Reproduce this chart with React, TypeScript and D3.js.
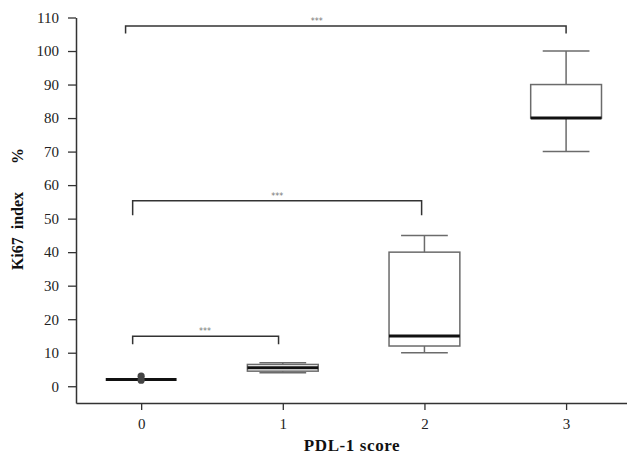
import React, { useEffect, useRef } from 'react';
import * as d3 from 'd3';

// PDL-1 score groups and their Ki67 box stats
const groups = [0, 1, 2, 3];
const whiskerLow = [2, 4, 10, 70];
const boxLow = [2, 4.5, 12, 80];
const medians = [2, 5.5, 15, 80];
const boxHigh = [2, 6.5, 40, 90];
const whiskerHigh = [2, 7, 45, 100];
// outlier dots for group 0
const outlierGroup = [0, 0];
const outlierValues = [3, 1.8];

// significance brackets: from group, to group, bar height, drop height, star x
const bracketFrom = [-0.11, -0.06, -0.06];
const bracketTo = [3, 1.98, 0.97];
const bracketTop = [107.5, 55.3, 14.9];
const bracketDrop = [105.2, 51, 12.5];
const starX = [1.24, 0.96, 0.45];
const starLabel = ['***', '***', '***'];

const yTicks = d3.range(0, 111, 10);

const App = () => {
  const svgRef = useRef<SVGSVGElement>(null);

  useEffect(() => {
    const svg = d3.select(svgRef.current);
    svg.selectAll('*').remove();

    const x = d3.scaleLinear().domain([-0.46, 3.43]).range([76, 627]);
    const y = d3.scaleLinear().domain([-5, 110]).range([403, 17.5]);
    const halfBox = x(0.25) - x(0);
    const halfCap = x(0.165) - x(0);

    const font = "'Liberation Serif', 'Times New Roman', serif";

    // axes
    const yAxis = svg
      .append('g')
      .attr('transform', `translate(${x(-0.46)},0)`)
      .call(d3.axisLeft(y).tickValues(yTicks).tickSizeOuter(0).tickSizeInner(8).tickPadding(9));
    const xAxis = svg
      .append('g')
      .attr('transform', `translate(0,${y(-5)})`)
      .call(d3.axisBottom(x).tickValues(groups).tickFormat(d3.format('d')).tickSizeOuter(0).tickSizeInner(7).tickPadding(8));
    [yAxis, xAxis].forEach((ax) => {
      ax.select('.domain').attr('stroke', '#333').attr('stroke-width', 1.5);
      ax.selectAll('.tick line').attr('stroke', '#333').attr('stroke-width', 1.3);
      ax.selectAll('.tick text')
        .attr('fill', '#222')
        .style('font-family', font)
        .style('font-size', '15px');
    });

    // axis titles
    svg
      .append('text')
      .attr('transform', `translate(23,209) rotate(-90)`)
      .attr('text-anchor', 'middle')
      .attr('xml:space', 'preserve')
      .style('white-space', 'pre')
      .style('font-family', font)
      .style('font-size', '16px')
      .style('font-weight', 'bold')
      .attr('fill', '#111')
      .text('Ki67  index       %');

    svg
      .append('text')
      .attr('x', 352)
      .attr('y', 451)
      .attr('text-anchor', 'middle')
      .style('font-family', font)
      .style('font-size', '17px')
      .style('font-weight', 'bold')
      .style('letter-spacing', '0.6px')
      .attr('fill', '#111')
      .text('PDL-1 score');

    // boxes
    const gray = '#6b6b6b';
    const boxes = svg
      .selectAll('g.box')
      .data(groups)
      .enter()
      .append('g')
      .attr('class', 'box');

    boxes
      .append('line')
      .attr('x1', (d) => x(d))
      .attr('x2', (d) => x(d))
      .attr('y1', (d, i) => y(whiskerLow[i]))
      .attr('y2', (d, i) => y(whiskerHigh[i]))
      .attr('stroke', gray)
      .attr('stroke-width', 1.5);

    boxes
      .selectAll('line.cap')
      .data((d, i) => [
        { g: d, v: whiskerLow[i] },
        { g: d, v: whiskerHigh[i] },
      ])
      .enter()
      .append('line')
      .attr('class', 'cap')
      .attr('x1', (d) => x(d.g) - halfCap)
      .attr('x2', (d) => x(d.g) + halfCap)
      .attr('y1', (d) => y(d.v))
      .attr('y2', (d) => y(d.v))
      .attr('stroke', gray)
      .attr('stroke-width', 1.5);

    boxes
      .append('rect')
      .attr('x', (d) => x(d) - halfBox)
      .attr('width', halfBox * 2)
      .attr('y', (d, i) => y(boxHigh[i]))
      .attr('height', (d, i) => y(boxLow[i]) - y(boxHigh[i]))
      .attr('fill', 'white')
      .attr('stroke', gray)
      .attr('stroke-width', 1.5);

    boxes
      .append('line')
      .attr('x1', (d) => x(d) - halfBox)
      .attr('x2', (d) => x(d) + halfBox)
      .attr('y1', (d, i) => y(medians[i]))
      .attr('y2', (d, i) => y(medians[i]))
      .attr('stroke', '#111')
      .attr('stroke-width', 3);

    // outliers
    svg
      .selectAll('circle.out')
      .data(outlierValues)
      .enter()
      .append('circle')
      .attr('class', 'out')
      .attr('cx', (d, i) => x(outlierGroup[i]))
      .attr('cy', (d) => y(d))
      .attr('r', 3.6)
      .attr('fill', '#444');

    // significance brackets
    const line = d3.line<[number, number]>().x((d) => x(d[0])).y((d) => y(d[1]));
    svg
      .selectAll('path.bracket')
      .data(bracketFrom)
      .enter()
      .append('path')
      .attr('class', 'bracket')
      .attr('d', (d, i) =>
        line([
          [d, bracketDrop[i]],
          [d, bracketTop[i]],
          [bracketTo[i], bracketTop[i]],
          [bracketTo[i], bracketDrop[i]],
        ])
      )
      .attr('fill', 'none')
      .attr('stroke', '#333')
      .attr('stroke-width', 1.5);

    svg
      .selectAll('text.star')
      .data(starLabel)
      .enter()
      .append('text')
      .attr('class', 'star')
      .attr('x', (d, i) => x(starX[i]))
      .attr('y', (d, i) => y(bracketTop[i]) - 2)
      .attr('text-anchor', 'middle')
      .style('font-family', "'DejaVu Sans', sans-serif")
      .style('font-size', '8px')
      .attr('fill', '#777')
      .text((d) => d);
  }, []);

  return (
    <svg
      ref={svgRef}
      width={627}
      height={457}
      style={{ position: 'absolute', left: 0, top: 0, background: 'white' }}
    ></svg>
  );
};

export default App;
